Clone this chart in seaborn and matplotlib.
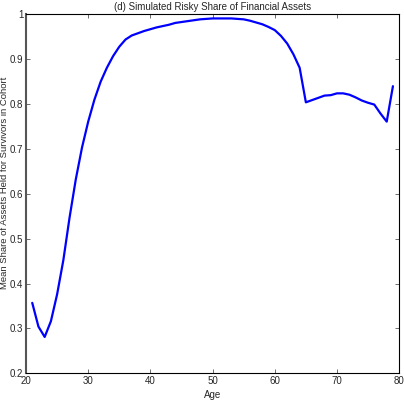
import numpy as np
import pandas as pd
import matplotlib
matplotlib.use('Agg')
from matplotlib import pyplot as plt
import seaborn as sns

ages = list(range(21, 80))
risky_share = [0.357, 0.304, 0.281, 0.316, 0.376, 0.452, 0.547, 0.632, 0.703, 0.761,
               0.810, 0.850, 0.881, 0.907, 0.928, 0.944, 0.953, 0.958, 0.963, 0.967,
               0.971, 0.974, 0.977, 0.981, 0.983, 0.985, 0.987, 0.989, 0.990, 0.991,
               0.991, 0.991, 0.991, 0.990, 0.989, 0.986, 0.982, 0.978, 0.972, 0.965,
               0.952, 0.935, 0.911, 0.881, 0.804, 0.809, 0.814, 0.819, 0.820, 0.824,
               0.824, 0.821, 0.815, 0.808, 0.803, 0.799, 0.779, 0.761, 0.840]

xticks = [20, 30, 40, 50, 60, 70, 80]
yticks = [0.2, 0.3, 0.4, 0.5, 0.6, 0.7, 0.8, 0.9, 1.0]
ytick_labels = ['0.2', '0.3', '0.4', '0.5', '0.6', '0.7', '0.8', '0.9', '1']

sns.set_style('white')
plt.rcParams['font.family'] = ['Liberation Sans Narrow', 'Liberation Sans', 'DejaVu Sans']

df = pd.DataFrame({'age': ages, 'share': risky_share})

fig = plt.figure(figsize=(4.04, 4.0), dpi=100)
ax = fig.add_axes([0.0644, 0.0668, 0.9236, 0.8972])
sns.lineplot(data=df, x='age', y='share', ax=ax, color='#0000ff', linewidth=1.6)

ax.set_xlim(20, 80)
ax.set_ylim(0.2, 1.0)
ax.set_xticks(xticks)
ax.set_xticklabels([str(t) for t in xticks])
ax.set_yticks(yticks)
ax.set_yticklabels(ytick_labels)
ax.tick_params(direction='in', length=3, width=0.6, labelsize=7, top=True, right=True,
               bottom=True, left=True, pad=2, color='#555555')
for s in ax.spines.values():
    s.set_visible(True)
    s.set_color('black')
    s.set_linewidth(0.8)
ax.spines['left'].set_color('#555555')
ax.spines['left'].set_linewidth(1.5)

ax.set_xlabel('Age', fontsize=7, labelpad=3)
ax.set_ylabel('Mean Share of Assets Held for Survivors in Cohort', fontsize=6.8)
ax.yaxis.set_label_coords(-0.045, 0.531)
ax.set_title('(d) Simulated Risky Share of Financial Assets', fontsize=7, pad=3)

fig.savefig('out.png', dpi=100)
